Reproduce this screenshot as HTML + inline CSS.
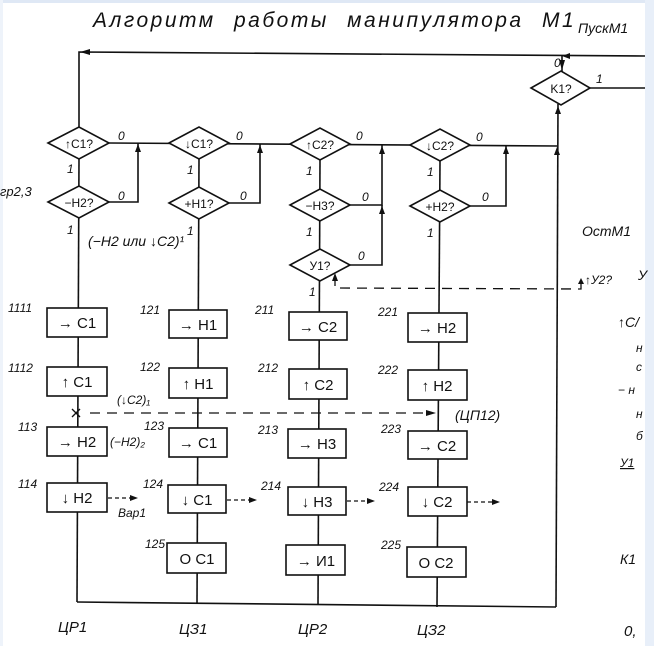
<!DOCTYPE html>
<html><head><meta charset="utf-8"><style>
html,body{margin:0;padding:0;background:#fff;}
svg{display:block}
text{font-family:"Liberation Sans","DejaVu Sans",sans-serif;font-style:italic;fill:#111}
</style></head><body>
<svg width="654" height="646" viewBox="0 0 654 646" xmlns="http://www.w3.org/2000/svg">
<rect x="0" y="0" width="654" height="3" fill="#dfe8f5"/>
<rect x="0" y="0" width="3" height="646" fill="#eef3fa"/>
<rect x="645" y="0" width="9" height="646" fill="#e8eff9"/>

<g stroke="#111" stroke-width="1.6" fill="none">
<polyline points="79,127 79,52 645,56"/>
<line x1="562" y1="56" x2="562" y2="72"/>
<line x1="590" y1="88" x2="645" y2="88"/>
<line x1="558" y1="104" x2="556" y2="607"/>
<line x1="109" y1="143" x2="557" y2="146"/>
<polyline points="109,202 138,202 138,143"/>
<polyline points="229,203 260,203 260,144"/>
<polyline points="350,205 382,205 382,145"/>
<polyline points="350,265 382,265 382,205"/>
<polyline points="470,206 506,206 506,145"/>
<line x1="79" y1="159" x2="77" y2="602"/>
<line x1="199" y1="159" x2="197" y2="604"/>
<line x1="320" y1="160" x2="318" y2="605"/>
<line x1="440" y1="161" x2="437" y2="607"/>
<line x1="77" y1="602" x2="556" y2="607"/>
</g>
<g stroke="#111" stroke-width="1.6" fill="#fff">
<polygon points="531,88 561,71 590,88 561,105"/>
<polygon points="48,143 79,127 109,143 79,159"/>
<polygon points="169,143 199,127 229,143 199,159"/>
<polygon points="290,144 320,128 350,144 320,160"/>
<polygon points="410,145 440,129 470,145 440,161"/>
<polygon points="48,202 79,186 109,202 79,218"/>
<polygon points="169,203 199,187 229,203 199,219"/>
<polygon points="290,205 320,189 350,205 320,221"/>
<polygon points="410,206 440,190 470,206 440,222"/>
<polygon points="290,265 320,249 350,265 320,281"/>
<rect x="47" y="308" width="60" height="29"/>
<rect x="47" y="367" width="60" height="29"/>
<rect x="47" y="427" width="60" height="29"/>
<rect x="47" y="483" width="60" height="29"/>
<rect x="169" y="310" width="58" height="28"/>
<rect x="169" y="368" width="58" height="30"/>
<rect x="169" y="428" width="58" height="29"/>
<rect x="168" y="485" width="58" height="28"/>
<rect x="167" y="543" width="59" height="30"/>
<rect x="289" y="312" width="58" height="28"/>
<rect x="289" y="369" width="58" height="30"/>
<rect x="288" y="429" width="58" height="29"/>
<rect x="288" y="487" width="58" height="28"/>
<rect x="286" y="545" width="59" height="30"/>
<rect x="408" y="313" width="59" height="29"/>
<rect x="408" y="370" width="59" height="30"/>
<rect x="408" y="431" width="59" height="28"/>
<rect x="408" y="487" width="59" height="29"/>
<rect x="407" y="547" width="59" height="30"/>
</g>
<g fill="#111">
<polygon points="90,49 80,52 90,55"/>
<polygon points="570,53 562,56 570,59"/>
<polygon points="559,60 562,70 565,60"/>
<polygon points="135,152 138,144 141,152"/>
<polygon points="257,153 260,145 263,153"/>
<polygon points="379,154 382,146 385,154"/>
<polygon points="379,214 382,206 385,214"/>
<polygon points="503,154 506,146 509,154"/>
<polygon points="554,155 557,147 560,155"/>
<polygon points="555,114 558,106 561,114"/>
<polygon points="332,281 335,273 338,281"/>
<polygon points="426,410 436,413 426,416"/>
<polygon points="130,495 138,498 130,501"/>
<polygon points="249,497 257,500 249,503"/>
<polygon points="367,498 375,501 367,504"/>
<polygon points="492,499 500,502 492,505"/>
<polygon points="578,284 581,278 584,284"/>
</g>
<g stroke="#111" stroke-width="1.3" fill="none">
<polyline points="335,276 335,288 581,289 581,281" stroke-dasharray="10,7"/>
<line x1="90" y1="413" x2="430" y2="413" stroke-dasharray="10,7"/>
<line x1="108" y1="498" x2="132" y2="498" stroke-dasharray="4,3"/>
<line x1="227" y1="500" x2="251" y2="500" stroke-dasharray="4,3"/>
<line x1="347" y1="501" x2="369" y2="501" stroke-dasharray="4,3"/>
<line x1="467" y1="502" x2="494" y2="502" stroke-dasharray="4,3"/>
<line x1="72" y1="409" x2="80" y2="417"/><line x1="80" y1="409" x2="72" y2="417"/>
</g>

<g text-anchor="middle" style="font-size:12px">
<text x="561" y="93" style="font-style:normal">K1?</text>
<text x="79" y="148" style="font-style:normal">↑C1?</text>
<text x="199" y="148" style="font-style:normal">↓C1?</text>
<text x="320" y="149" style="font-style:normal">↑C2?</text>
<text x="440" y="150" style="font-style:normal">↓C2?</text>
<text x="79" y="207" style="font-style:normal">−H2?</text>
<text x="199" y="208" style="font-style:normal">+H1?</text>
<text x="320" y="210" style="font-style:normal">−H3?</text>
<text x="440" y="211" style="font-style:normal">+H2?</text>
<text x="320" y="270" style="font-style:normal">У1?</text>
</g>
<g text-anchor="middle" style="font-size:15px">
<text x="77" y="328" style="font-style:normal">→ C1</text>
<text x="77" y="387" style="font-style:normal">↑ C1</text>
<text x="77" y="447" style="font-style:normal">→ H2</text>
<text x="77" y="503" style="font-style:normal">↓ H2</text>
<text x="198" y="330" style="font-style:normal">→ H1</text>
<text x="198" y="389" style="font-style:normal">↑ H1</text>
<text x="198" y="448" style="font-style:normal">→ C1</text>
<text x="197" y="505" style="font-style:normal">↓ C1</text>
<text x="197" y="564" style="font-style:normal">O C1</text>
<text x="318" y="332" style="font-style:normal">→ C2</text>
<text x="318" y="390" style="font-style:normal">↑ C2</text>
<text x="317" y="449" style="font-style:normal">→ H3</text>
<text x="317" y="507" style="font-style:normal">↓ H3</text>
<text x="316" y="566" style="font-style:normal">→ И1</text>
<text x="437" y="333" style="font-style:normal">→ H2</text>
<text x="437" y="391" style="font-style:normal">↑ H2</text>
<text x="437" y="451" style="font-style:normal">→ C2</text>
<text x="437" y="507" style="font-style:normal">↓ C2</text>
<text x="436" y="568" style="font-style:normal">O C2</text>
</g>
<g style="font-size:12px">
<text x="93" y="27" style="font-size:21px;letter-spacing:2.5px;word-spacing:10px">Алгоритм работы  манипулятора М1</text>
<text x="578" y="33" style="font-size:14px">ПускМ1</text>
<text x="554" y="67">0</text><text x="596" y="83">1</text>
<text x="118" y="140">0</text><text x="236" y="140">0</text><text x="356" y="140">0</text><text x="476" y="141">0</text>
<text x="118" y="200">0</text><text x="240" y="200">0</text><text x="362" y="201">0</text><text x="482" y="201">0</text><text x="358" y="260">0</text>
<text x="67" y="173">1</text><text x="187" y="174">1</text><text x="306" y="175">1</text><text x="427" y="176">1</text>
<text x="67" y="234">1</text><text x="187" y="235">1</text><text x="306" y="236">1</text><text x="427" y="237">1</text><text x="309" y="296">1</text>
<text x="0" y="196" style="font-size:13px">гр2,3</text>
<text x="88" y="246" style="font-size:14px">(−H2 или ↓C2)¹</text>
<text x="582" y="236" style="font-size:14px">ОстМ1</text>
<text x="585" y="284">↑У2?</text><text x="638" y="280" style="font-size:14px">У</text>
<text x="8" y="312">1111</text><text x="8" y="372">1112</text><text x="18" y="431">113</text><text x="18" y="488">114</text>
<text x="140" y="314">121</text><text x="140" y="371">122</text><text x="144" y="430">123</text><text x="143" y="488">124</text><text x="145" y="548">125</text>
<text x="255" y="314">211</text><text x="258" y="372">212</text><text x="258" y="434">213</text><text x="261" y="490">214</text>
<text x="378" y="316">221</text><text x="378" y="374">222</text><text x="381" y="433">223</text><text x="379" y="491">224</text><text x="381" y="549">225</text>
<text x="117" y="404">(↓C2)₁</text>
<text x="110" y="446">(−H2)₂</text>
<text x="118" y="517">Вар1</text>
<text x="455" y="420" style="font-size:14px">(ЦП12)</text>
<text x="58" y="632" style="font-size:15px">ЦР1</text>
<text x="179" y="634" style="font-size:15px">ЦЗ1</text>
<text x="298" y="634" style="font-size:15px">ЦР2</text>
<text x="417" y="635" style="font-size:15px">ЦЗ2</text>
<text x="618" y="327" style="font-size:14px">↑C/</text>
<text x="636" y="352">н</text><text x="636" y="371">с</text>
<text x="618" y="394">− н</text><text x="636" y="418">н</text><text x="636" y="440">б</text>
<text x="620" y="467" style="text-decoration:underline">У1</text>
<text x="620" y="564" style="font-size:14px">К1</text>
<text x="624" y="636" style="font-size:15px">0,</text>
</g>
</svg>
</body></html>
